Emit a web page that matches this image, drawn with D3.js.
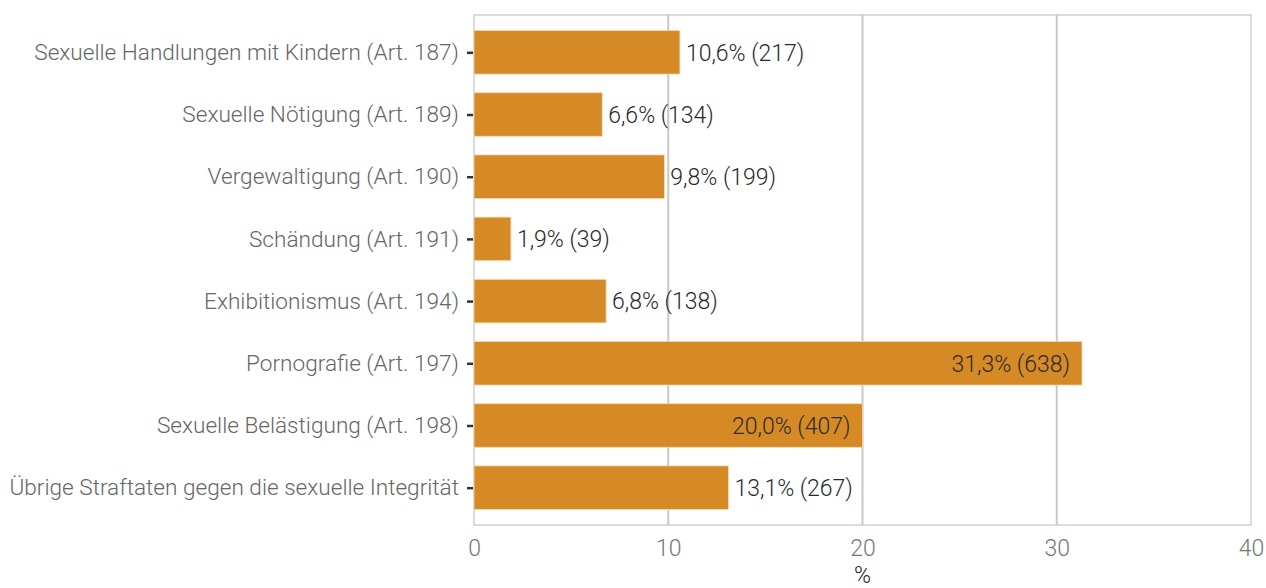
<!DOCTYPE html>
<html>
<head>
<meta charset="utf-8">
<script src="https://cdn.jsdelivr.net/npm/d3@7"></script>
<style>
  body { margin: 0; background: #fff; }
  text { font-family: Roboto, "Noto Sans", sans-serif; font-weight: 300; }
</style>
</head>
<body>
<svg id="chart" width="1266" height="588"></svg>
<script>
// chart data
const categories = [
    "Sexuelle Handlungen mit Kindern (Art. 187)",
    "Sexuelle Nötigung (Art. 189)",
    "Vergewaltigung (Art. 190)",
    "Schändung (Art. 191)",
    "Exhibitionismus (Art. 194)",
    "Pornografie (Art. 197)",
    "Sexuelle Belästigung (Art. 198)",
    "Übrige Straftaten gegen die sexuelle Integrität"
];
const percents = [10.6, 6.6, 9.8, 1.9, 6.8, 31.3, 20.0, 13.1];
const counts = [217, 134, 199, 39, 138, 638, 407, 267];
const xTicks = [0, 10, 20, 30, 40];

const svg = d3.select("#chart");
const panelLeft = 474, panelRight = 1251, panelTop = 15, panelBottom = 525;

const x = d3.scaleLinear().domain([0, 40]).range([panelLeft, panelRight]);
const y = d3.scalePoint().domain(categories).range([panelTop, panelBottom]).padding(0.6);
const barH = y.step() * 0.7;

// panel border
svg.append("rect")
    .attr("x", panelLeft).attr("y", panelTop)
    .attr("width", panelRight - panelLeft).attr("height", panelBottom - panelTop)
    .attr("fill", "none").attr("stroke", "#d0d0d0").attr("stroke-width", 1.5);

// vertical grid lines
svg.append("g").selectAll("line")
    .data(xTicks.slice(1, -1))
    .enter().append("line")
    .attr("x1", d => x(d)).attr("x2", d => x(d))
    .attr("y1", panelTop).attr("y2", panelBottom)
    .attr("stroke", "#c8c8c8").attr("stroke-width", 2);

// bars
svg.append("g").selectAll("rect")
    .data(categories)
    .enter().append("rect")
    .attr("x", x(0))
    .attr("y", d => y(d) - barH / 2)
    .attr("width", (d, i) => x(percents[i]) - x(0))
    .attr("height", barH)
    .attr("fill", "#d68a26")
    .attr("stroke", "#f3d9b5").attr("stroke-width", 0.8);

// value labels
const fmt = v => v.toFixed(1).replace(".", ",");
svg.append("g").selectAll("text")
    .data(categories)
    .enter().append("text")
    .attr("x", (d, i) => percents[i] > 15 ? x(percents[i]) - 12 : x(percents[i]) + 6)
    .attr("y", d => y(d))
    .attr("dy", "0.36em")
    .attr("text-anchor", (d, i) => percents[i] > 15 ? "end" : "start")
    .attr("font-size", "23px")
    .attr("fill", "#2a2a2a")
    .text((d, i) => `${fmt(percents[i])}% (${counts[i]})`);

// y axis
const yAxis = svg.append("g")
    .attr("transform", `translate(${panelLeft},0)`)
    .call(d3.axisLeft(y).tickSize(6).tickPadding(9));
yAxis.select(".domain").remove();
yAxis.selectAll(".tick line").attr("stroke", "#333").attr("stroke-width", 2.5).attr("x2", -7).attr("x1", -1);
yAxis.selectAll(".tick text")
    .attr("font-family", "Roboto, sans-serif").attr("font-weight", 300)
    .attr("font-size", "22.6px").attr("fill", "#666");

// x axis
const xAxis = svg.append("g")
    .attr("transform", `translate(0,${panelBottom})`)
    .call(d3.axisBottom(x).tickValues(xTicks).tickSize(0).tickPadding(15));
xAxis.select(".domain").remove();
xAxis.selectAll(".tick text")
    .attr("font-family", "Roboto, sans-serif").attr("font-weight", 300)
    .attr("font-size", "23px").attr("fill", "#777");

svg.append("text")
    .attr("x", (panelLeft + panelRight) / 2)
    .attr("y", 583)
    .attr("text-anchor", "middle")
    .attr("font-size", "23px")
    .attr("fill", "#222")
    .text("%");
</script>
</body>
</html>
